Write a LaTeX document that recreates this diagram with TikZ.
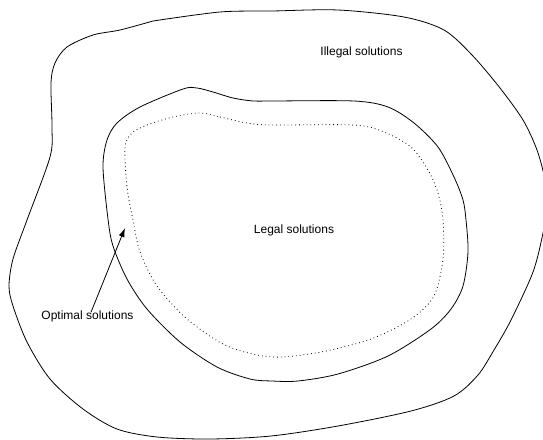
\documentclass[tikz,border=0pt]{standalone}
\usepackage{fontspec}
\setmainfont{Liberation Sans}
\usetikzlibrary{arrows.meta}
\begin{document}
\begin{tikzpicture}[x=1pt,y=-1pt,
  region/.style={draw=black,line width=0.8pt},
  optline/.style={draw=black,line width=0.8pt,dash pattern=on 0.8pt off 3pt},
  lbl/.style={font=\fontsize{12}{14}\selectfont,inner sep=0pt},
  pointer/.style={draw=black,line width=0.8pt,-{Latex[length=9pt,width=6pt]}}]
\useasboundingbox (0,0) rectangle (543,439);
\begin{scope}
\clip (0,0) rectangle (543,439);
\draw[region] plot[smooth,tension=0.5] coordinates {
 (153,21) (220,12) (272,11) (338,10) (404,17) (444,30) (472,55) (500,88)
 (523,120) (537,150) (545,180) (547,205) (543,233) (533,272) (511,320)
 (494,350) (478,375) (454,396)
 (411,411) (338,426) (271,436) (210,439) (157,437) (117,429) (83,409)
 (50,379) (27,342) (13,306) (9,286) (13,259) (27,220) (50,157) (52,127)
 (51,83) (55,63) (67,47) (93,35) (120,30) (153,21)};
\end{scope}
\draw[region] plot[smooth cycle,tension=0.5] coordinates {
 (197,88) (213,92) (233,98) (253,101) (272,101) (354,101) (388,107)
 (414,123) (438,147) (454,177) (463,200) (466,220) (468,252) (463,286)
 (451,309) (431,329) (388,356) (338,374) (298,381) (272,381) (250,379)
 (217,367) (180,342) (147,309) (127,279) (113,246) (108,219) (103,167)
 (107,140) (117,123) (140,107) (183,89)};
\draw[optline] plot[smooth cycle,tension=0.5] coordinates {
 (200,113) (220,117) (247,123) (272,125) (354,125) (384,132) (411,147)
 (428,170) (438,193) (443,220) (443,259) (434,296) (411,319) (371,339)
 (321,352) (272,357) (227,346) (187,319) (157,286) (140,252) (133,220)
 (127,187) (125,147) (132,133) (147,125) (173,117)};
\node[lbl] (illegal) at (361.5,52) {Illegal solutions};
\node[lbl] (legal) at (294,230) {Legal solutions};
\node[lbl] (optimal) at (87.5,316) {Optimal solutions};
\coordinate (tip) at (125,228);
\draw[pointer] ([xshift=3.5pt,yshift=-2pt]optimal.north) -- (tip);
\end{tikzpicture}
\end{document}
